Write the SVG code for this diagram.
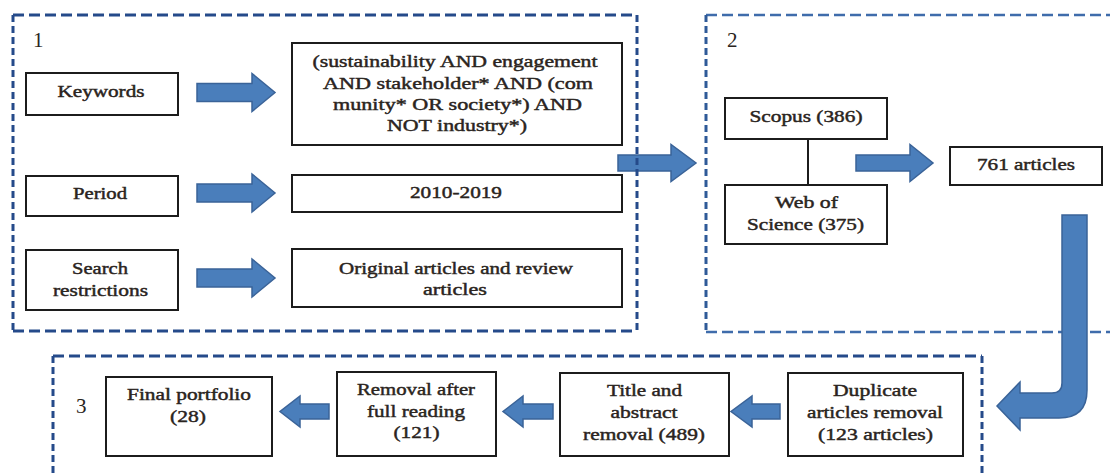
<svg xmlns="http://www.w3.org/2000/svg" width="1110" height="475" viewBox="0 0 1110 475">
<style>
.bg{fill:#ffffff}
.box{fill:#ffffff;stroke:#1c1c1c;stroke-width:2}
.t{font-size:17px;fill:#2a2420;stroke:#2a2420;stroke-width:0.45;text-anchor:middle}
.num{font-size:21px;fill:#2a2420}
.dh{fill:none;stroke:#254a8a;stroke-width:3;stroke-dasharray:11 5}
.dv{fill:none;stroke:#254a8a;stroke-width:3;stroke-dasharray:7 4}
.dh2{fill:none;stroke:#3f6cab;stroke-width:2.5;stroke-dasharray:11 5}
.dv2{fill:none;stroke:#2f5a98;stroke-width:3;stroke-dasharray:7 4}
.arr{fill:#4a7ebb;stroke:#3a6398;stroke-width:1.5;stroke-linejoin:miter}
.ln{stroke:#1c1c1c;stroke-width:2;fill:none}
</style>
<rect class="bg" x="0" y="0" width="1110" height="475"/>
<g font-family="'Liberation Serif', 'Times New Roman', serif">
<g id="frame2">
  <line class="dh2" x1="706" y1="15" x2="1115" y2="15"/>
  <line class="dh2" x1="706" y1="332" x2="1115" y2="332"/>
  <line class="dv2" x1="706" y1="15" x2="706" y2="332"/>
  <text class="num" x="727" y="47">2</text>
</g>
<g id="frame3">
  <line class="dh" x1="53" y1="356" x2="982" y2="356"/>
  <line class="dv" x1="53" y1="356" x2="53" y2="480"/>
  <line class="dv" x1="982" y1="356" x2="982" y2="480"/>
  <text class="num" x="76" y="413">3</text>
</g>

<g id="connectors">
  <polygon class="arr" points="197,83.5 252,83.5 252,73.5 275,92.5 252,111.5 252,101.5 197,101.5"/>
  <polygon class="arr" points="197,184 252,184 252,174 275,193 252,212 252,202 197,202"/>
  <polygon class="arr" points="197,269 252,269 252,259 275,278 252,297 252,287 197,287"/>
  <polygon class="arr" points="618,155 671,155 671,144.5 696,163 671,181.5 671,171 618,171"/>
  <polygon class="arr" points="856,155 910,155 910,144.5 933,163 910,181.5 910,171 856,171"/>
  <line class="ln" x1="808" y1="139" x2="808" y2="185"/>
  <path class="arr" d="M1062,215 L1087,215 L1087,390 Q1087,418 1059,418 L1020,418 L1020,430 L997,406 L1020,382 L1020,393 L1052,393 Q1062,393 1062,383 Z"/>
  <polygon class="arr" points="329,404 300,404 300,396 280,411.5 300,427 300,419 329,419"/>
  <polygon class="arr" points="553,404 523,404 523,396 503,411.5 523,427 523,419 553,419"/>
  <polygon class="arr" points="780,404 752,404 752,396 731,411.5 752,427 752,419 780,419"/>
</g>

<g id="frame1">
  <line class="dh" x1="13" y1="15" x2="637" y2="15"/>
  <line class="dh" x1="13" y1="331" x2="637" y2="331"/>
  <line class="dv" x1="13" y1="15" x2="13" y2="331"/>
  <line class="dv" x1="637" y1="15" x2="637" y2="331"/>
  <text class="num" x="33" y="47">1</text>
</g>

<g id="keywords">
  <rect class="box" x="26" y="73" width="152" height="42"/>
  <text class="t" x="101" y="97" textLength="87" lengthAdjust="spacingAndGlyphs">Keywords</text>
</g>
<g id="period">
  <rect class="box" x="26" y="176" width="152" height="40"/>
  <text class="t" x="100" y="199" textLength="54" lengthAdjust="spacingAndGlyphs">Period</text>
</g>
<g id="search">
  <rect class="box" x="26" y="250" width="152" height="60"/>
  <text class="t" x="100" y="274" textLength="56" lengthAdjust="spacingAndGlyphs">Search</text>
  <text class="t" x="100.5" y="296" textLength="95" lengthAdjust="spacingAndGlyphs">restrictions</text>
</g>
<g id="query">
  <rect class="box" x="292" y="43" width="330" height="102"/>
  <text class="t" x="455" y="67" textLength="285" lengthAdjust="spacingAndGlyphs">(sustainability AND engagement</text>
  <text class="t" x="458" y="88.5" textLength="270" lengthAdjust="spacingAndGlyphs">AND stakeholder* AND (com</text>
  <text class="t" x="457.5" y="110" textLength="249" lengthAdjust="spacingAndGlyphs">munity* OR society*) AND</text>
  <text class="t" x="457" y="131" textLength="140" lengthAdjust="spacingAndGlyphs">NOT industry*)</text>
</g>
<g id="years">
  <rect class="box" x="292" y="175" width="330" height="37"/>
  <text class="t" x="456" y="198" textLength="92" lengthAdjust="spacingAndGlyphs">2010-2019</text>
</g>
<g id="restrictions">
  <rect class="box" x="292" y="249" width="330" height="58"/>
  <text class="t" x="456" y="274" textLength="234" lengthAdjust="spacingAndGlyphs">Original articles and review</text>
  <text class="t" x="455" y="295" textLength="64" lengthAdjust="spacingAndGlyphs">articles</text>
</g>
<g id="scopus">
  <rect class="box" x="725" y="98" width="162" height="41"/>
  <text class="t" x="806" y="122" textLength="113" lengthAdjust="spacingAndGlyphs">Scopus (386)</text>
</g>
<g id="wos">
  <rect class="box" x="725" y="185" width="162" height="59"/>
  <text class="t" x="806.5" y="208" textLength="63" lengthAdjust="spacingAndGlyphs">Web of</text>
  <text class="t" x="805.5" y="230" textLength="117" lengthAdjust="spacingAndGlyphs">Science (375)</text>
</g>
<g id="total">
  <rect class="box" x="950" y="147" width="152" height="38"/>
  <text class="t" x="1026" y="170" textLength="98" lengthAdjust="spacingAndGlyphs">761 articles</text>
</g>
<g id="final">
  <rect class="box" x="106" y="377" width="166" height="79"/>
  <text class="t" x="189" y="400" textLength="124" lengthAdjust="spacingAndGlyphs">Final portfolio</text>
  <text class="t" x="188" y="422" textLength="36" lengthAdjust="spacingAndGlyphs">(28)</text>
</g>
<g id="fullreading">
  <rect class="box" x="337" y="372" width="159" height="84"/>
  <text class="t" x="416" y="395" textLength="118" lengthAdjust="spacingAndGlyphs">Removal after</text>
  <text class="t" x="416" y="417" textLength="98" lengthAdjust="spacingAndGlyphs">full reading</text>
  <text class="t" x="416.5" y="438" textLength="46" lengthAdjust="spacingAndGlyphs">(121)</text>
</g>
<g id="titleabstract">
  <rect class="box" x="560" y="373" width="169" height="83"/>
  <text class="t" x="644.5" y="396" textLength="75" lengthAdjust="spacingAndGlyphs">Title and</text>
  <text class="t" x="644" y="418" textLength="67" lengthAdjust="spacingAndGlyphs">abstract</text>
  <text class="t" x="644" y="440" textLength="122" lengthAdjust="spacingAndGlyphs">removal (489)</text>
</g>
<g id="duplicates">
  <rect class="box" x="788" y="373" width="175" height="83"/>
  <text class="t" x="875" y="396" textLength="84" lengthAdjust="spacingAndGlyphs">Duplicate</text>
  <text class="t" x="875" y="418" textLength="136" lengthAdjust="spacingAndGlyphs">articles removal</text>
  <text class="t" x="875.5" y="440" textLength="115" lengthAdjust="spacingAndGlyphs">(123 articles)</text>
</g>
</g>
</svg>
